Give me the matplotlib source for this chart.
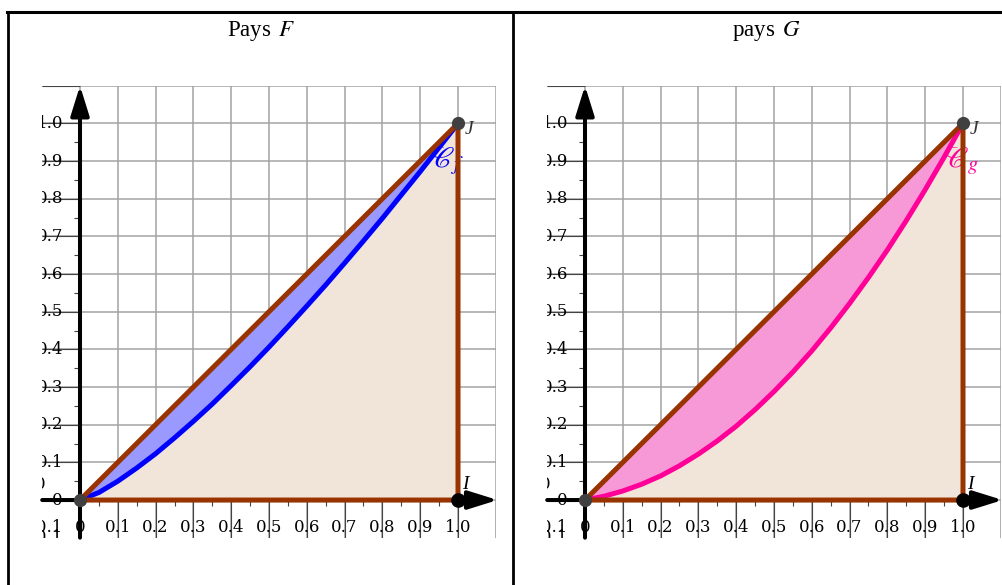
import matplotlib.pyplot as plt
import numpy as np
from matplotlib.lines import Line2D

plt.rcParams['mathtext.fontset'] = 'stix'

# cumulative share of population (x) and of income for each country
share = [0.0, 0.05, 0.1, 0.15, 0.2, 0.25, 0.3, 0.35, 0.4, 0.45, 0.5,
         0.55, 0.6, 0.65, 0.7, 0.75, 0.8, 0.85, 0.9, 0.95, 1.0]
f_vals = [0.0, 0.020, 0.050, 0.085, 0.123, 0.165, 0.209, 0.255, 0.304, 0.354, 0.406,
          0.460, 0.515, 0.571, 0.629, 0.688, 0.748, 0.810, 0.872, 0.936, 1.0]
g_vals = [0.0, 0.010, 0.024, 0.042, 0.064, 0.091, 0.122, 0.157, 0.196, 0.240, 0.288,
          0.340, 0.396, 0.457, 0.522, 0.591, 0.664, 0.742, 0.824, 0.910, 1.0]

# points O, I, J
pt_names = ['O', 'I', 'J']
pt_x = [0.0, 1.0, 1.0]
pt_y = [0.0, 0.0, 1.0]

x_ticks = [-0.1, 0.0, 0.1, 0.2, 0.3, 0.4, 0.5, 0.6, 0.7, 0.8, 0.9, 1.0]
x_labels = ['\u22120.1', '0', '0.1', '0.2', '0.3', '0.4', '0.5', '0.6', '0.7', '0.8', '0.9', '1.0']
y_ticks = x_ticks
y_labels = x_labels
grid_ticks = [0.0, 0.1, 0.2, 0.3, 0.4, 0.5, 0.6, 0.7, 0.8, 0.9, 1.0, 1.1]
minor_ticks = [0.05, 0.15, 0.25, 0.35, 0.45, 0.55, 0.65, 0.75, 0.85, 0.95]

brown = '#993300'
beige = '#F1E5D9'
W, H = 1003, 585

fig = plt.figure(figsize=(W / 100, H / 100), dpi=100)


def panel(left_px, vals, line_col, fill_col, name, title, title_x, label_x):
    ax = fig.add_axes([left_px / W, (H - 537.7) / H, 453.6 / W, 452 / H])
    ax.set_xlim(-0.1, 1.1)
    ax.set_ylim(-0.1, 1.1)
    for s in ax.spines.values():
        s.set_visible(False)
    ax.set_xticks(grid_ticks)
    ax.set_yticks(grid_ticks)
    ax.tick_params(length=0, labelbottom=False, labelleft=False)
    ax.grid(True, color='#a3a3a3', lw=1.1)
    ax.set_axisbelow(True)

    # dark ticks left of / below the axes
    ax.vlines(x_ticks[2:] + [1.1], -0.1, 0, color='#444444', lw=0.8, zorder=1.5)
    ax.hlines(y_ticks[2:] + [1.1], -0.1, 0, color='#444444', lw=0.8, zorder=1.5)
    ax.vlines(minor_ticks, -0.017, 0, color='#444444', lw=0.8, zorder=1.5)
    ax.hlines(minor_ticks, -0.017, 0, color='#444444', lw=0.8, zorder=1.5)

    ax.fill_between(share, 0, vals, color=beige, lw=0, zorder=1)
    ax.fill_between(share, vals, share, color=fill_col, lw=0, zorder=1.1)

    # axes with arrows
    for tip, tail in (((1.105, 0), (-0.1, 0)), ((0, 1.1), (0, -0.1))):
        ax.annotate('', xy=tip, xytext=tail, annotation_clip=False,
                    arrowprops=dict(arrowstyle='-|>,head_length=0.9,head_width=0.28',
                                    lw=2.9, color='black', mutation_scale=20,
                                    shrinkA=0, shrinkB=0), zorder=2)

    ax.plot(share, vals, color=line_col, lw=3.6, zorder=3, solid_capstyle='round')
    ax.text(label_x, 0.9, r'$\mathscr{C}_' + name + '$',
            color=line_col, fontsize=21, ha='left', va='center', zorder=2.5)

    # triangle O J I
    tri_x = [pt_x[0], pt_x[2], pt_x[1], pt_x[0]]
    tri_y = [pt_y[0], pt_y[2], pt_y[1], pt_y[0]]
    ax.plot(tri_x, tri_y, color=brown, lw=3.6, zorder=4, solid_joinstyle='miter')

    ax.plot(pt_x[0], pt_y[0], 'o', color='#404040', ms=8.5, zorder=6)
    ax.plot(pt_x[2], pt_y[2], 'o', color='#404040', ms=8.5, zorder=6)
    ax.plot(pt_x[1], pt_y[1], 'o', color='black', ms=9.5, zorder=6, clip_on=False)
    ax.text(1.018, 0.985, pt_names[2], fontsize=14, style='italic', color='#333333',
            family='Liberation Serif', ha='left', va='center', zorder=7)
    ax.text(1.012, 0.04, pt_names[1], fontsize=14, style='italic', color='black',
            family='Liberation Serif', ha='left', va='center', zorder=7)

    for t, lab in zip(x_ticks, x_labels):
        ax.text(t, -0.074, lab, fontsize=12, family='DejaVu Serif', ha='center',
                va='center', clip_on=True, zorder=7)
    for t, lab in zip(y_ticks, y_labels):
        ax.text(-0.045, t, lab, fontsize=12, family='DejaVu Serif', ha='right',
                va='center', clip_on=True, zorder=7)
    ax.text(-0.106, 0.04, '0', fontsize=12, family='DejaVu Serif', ha='center',
            va='center', clip_on=True, zorder=7)

    fig.text(title_x / W, 1 - 31 / H, title, fontsize=16.5, family='Liberation Serif',
             ha='center', va='center')
    return ax


panel(42.2, f_vals, '#0000FF', '#9999FF', 'f', r'Pays $\,F$', 261, 0.925)
panel(547.2, g_vals, '#FF0099', '#F799D6', 'g', r'pays $\,G$', 766, 0.95)

# table borders
top = 1 - 12 / H
fig.add_artist(Line2D([7 / W, 1], [top, top], color='black', lw=2.2))
fig.add_artist(Line2D([8.5 / W, 8.5 / W], [0, top], color='black', lw=2.0))
fig.add_artist(Line2D([513 / W, 513 / W], [0, top], color='black', lw=2.0))

fig.savefig('out.png', dpi=100)
